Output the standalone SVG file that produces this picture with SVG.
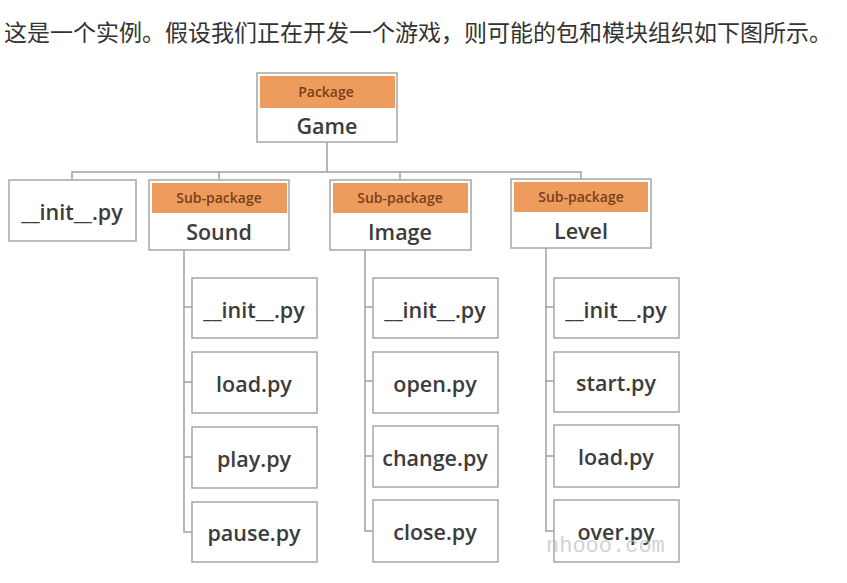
<svg xmlns="http://www.w3.org/2000/svg" width="847" height="583" viewBox="0 0 847 583">
<style>
.box{fill:#ffffff;stroke:#a6a6a6;stroke-width:1.5}
.hdr{fill:#ee9c5e}
.lbl{font-family:"Open Sans","Liberation Sans",sans-serif;font-weight:600;font-size:21.5px;fill:#3c3c3c;text-anchor:middle}
.tag{font-family:"Open Sans","Liberation Sans",sans-serif;font-weight:600;font-size:14px;fill:#7a3f18;text-anchor:middle}
.con{fill:none;stroke:#a0a0a0;stroke-width:1.5}
</style>
<rect width="847" height="583" fill="#ffffff"/>
<text x="4" y="41" font-family="'Noto Sans CJK SC',sans-serif" font-size="23" fill="#333333">这是一个实例。假设我们正在开发一个游戏，则可能的包和模块组织如下图所示。</text>

<g id="connectors">
<path class="con" d="M327,142 V172 M72,180 V172 H581 V180 M219,172 V180 M400,172 V180"/>
<path class="con" d="M184,250 V532 H192 M184,307 H192 M184,382 H192 M184,457 H192"/>
<path class="con" d="M365,250 V531 H373 M365,307 H373 M365,381 H373 M365,456 H373"/>
<path class="con" d="M546,248 V531 H554 M546,307 H554 M546,381 H554 M546,456 H554"/>
</g>

<g id="game"><rect class="box" x="257" y="73" width="140" height="69"/><rect class="hdr" x="260" y="76" width="135" height="32"/><text class="tag" x="326" y="97">Package</text><text class="lbl" x="327" y="134">Game</text></g>
<g id="init-top"><rect class="box" x="9" y="180" width="127" height="61"/><text class="lbl" x="72" y="220">__init__.py</text></g>
<g id="sound"><rect class="box" x="149" y="180" width="140" height="70"/><rect class="hdr" x="152" y="183" width="135" height="30"/><text class="tag" x="219" y="203">Sub-package</text><text class="lbl" x="219" y="240">Sound</text></g>
<g id="image"><rect class="box" x="330" y="180" width="141" height="70"/><rect class="hdr" x="333" y="183" width="135" height="30"/><text class="tag" x="400" y="203">Sub-package</text><text class="lbl" x="400" y="240">Image</text></g>
<g id="level"><rect class="box" x="511" y="179" width="140" height="69"/><rect class="hdr" x="514" y="182" width="134" height="30"/><text class="tag" x="581" y="202">Sub-package</text><text class="lbl" x="581" y="239">Level</text></g>

<g id="sound-init"><rect class="box" x="192" y="278" width="125" height="60"/><text class="lbl" x="254" y="318">__init__.py</text></g>
<g id="sound-load"><rect class="box" x="192" y="352" width="125" height="61"/><text class="lbl" x="254" y="392">load.py</text></g>
<g id="sound-play"><rect class="box" x="192" y="427" width="125" height="61"/><text class="lbl" x="254" y="467">play.py</text></g>
<g id="sound-pause"><rect class="box" x="192" y="502" width="125" height="60"/><text class="lbl" x="254" y="541">pause.py</text></g>

<g id="image-init"><rect class="box" x="373" y="278" width="125" height="60"/><text class="lbl" x="435" y="318">__init__.py</text></g>
<g id="image-open"><rect class="box" x="373" y="352" width="125" height="61"/><text class="lbl" x="435" y="392">open.py</text></g>
<g id="image-change"><rect class="box" x="373" y="426" width="125" height="61"/><text class="lbl" x="435" y="466">change.py</text></g>
<g id="image-close"><rect class="box" x="373" y="500" width="125" height="62"/><text class="lbl" x="435" y="540">close.py</text></g>

<g id="level-init"><rect class="box" x="554" y="278" width="125" height="60"/><text class="lbl" x="616" y="318">__init__.py</text></g>
<g id="level-start"><rect class="box" x="554" y="352" width="125" height="60"/><text class="lbl" x="616" y="391">start.py</text></g>
<g id="level-load"><rect class="box" x="554" y="425" width="125" height="62"/><text class="lbl" x="616" y="465">load.py</text></g>
<g id="level-over"><rect class="box" x="554" y="500" width="125" height="62"/><text class="lbl" x="616" y="540">over.py</text></g>

<text x="546" y="552" font-family="'Liberation Mono',monospace" font-size="22" fill="#c4c4c4" fill-opacity="0.75">nhooo.com</text>
</svg>
